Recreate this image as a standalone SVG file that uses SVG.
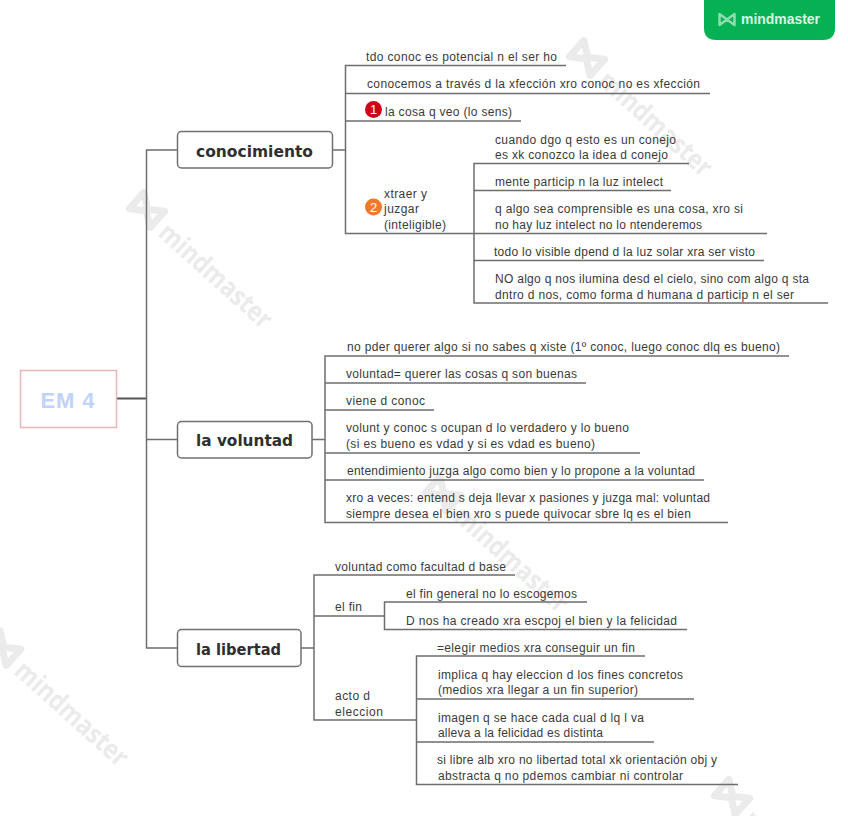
<svg xmlns="http://www.w3.org/2000/svg" width="848" height="816" viewBox="0 0 848 816">
<style>
text{font-family:"Liberation Sans",Arial,sans-serif}
.t{font-size:12px;fill:#3a3a3a}
.b{font-family:"DejaVu Sans",sans-serif;font-size:16px;font-weight:700;fill:#2f2f2f}
.n{fill:#fff;stroke:#707070;stroke-width:1.5}
.l{fill:none;stroke:#6e6e6e;stroke-width:1.5}
.wm{font-family:"Open Sans",sans-serif;font-size:27px;font-weight:700;fill:#ebebeb}
.wl{fill:none;stroke:#ebebeb;stroke-width:7;stroke-linejoin:round}
</style>
<defs>
<g id="wmk">
<path class="wl" d="M-14-11 V11 L0 1 L14 11 V-11 L0-1Z"/>
<text class="wm" x="24" y="12" textLength="142" lengthAdjust="spacingAndGlyphs">mindmaster</text>
</g>
</defs>
<rect width="848" height="816" fill="#fff"/>
<g id="watermarks">
<use href="#wmk" transform="translate(147,210) rotate(42)"/>
<use href="#wmk" transform="translate(587,58) rotate(42)"/>
<use href="#wmk" transform="translate(3,648) rotate(42)"/>
<use href="#wmk" transform="translate(443,494) rotate(42)"/>
<use href="#wmk" transform="translate(732,797) rotate(42)"/>
</g>
<g id="connectors">
<path d="M116 398.500H146.500" fill="none" stroke="#555" stroke-width="2"/>
<path class="l" d="M177 150H146.500V648H177M146.500 439.500H177"/>
<path class="l" d="M332 150H345.500M566 65.500H345.500V233.500H474M710 93.500H345.500M521 121H345.500"/>
<path class="l" d="M689 163.500H474V303H828M671 190.500H474M767 233.500H474M764 260.500H474"/>
<path class="l" d="M312 439.500H325M789 356H325V522.500H728M586 383H325M434 410H325M640 453H325M704 480H325"/>
<path class="l" d="M301 648H314M515 575H314V720H416.500M384.500 616H314"/>
<path class="l" d="M587 602H384.500V629.500H687"/>
<path class="l" d="M645 656H416.500V784.500H738M694 699H416.500M654 742H416.500"/>
</g>
<g id="root"><rect x="20.500" y="370.500" width="96" height="57" fill="#fff" stroke="#e9b6bb" stroke-width="1.500"/><text x="40.500" y="408" textLength="54" font-size="22" font-weight="700" fill="#c0d2fd">EM 4</text></g>
<g id="n-conocimiento"><rect class="n" x="177.500" y="131.500" width="155" height="36.500" rx="4"/><text class="b" x="196" y="157" textLength="117" lengthAdjust="spacingAndGlyphs">conocimiento</text></g>
<g id="n-voluntad"><rect class="n" x="177.500" y="421.500" width="134.500" height="36.500" rx="4"/><text class="b" x="196" y="446" textLength="97" lengthAdjust="spacingAndGlyphs">la voluntad</text></g>
<g id="n-libertad"><rect class="n" x="177.500" y="629.500" width="123.500" height="37" rx="4"/><text class="b" x="196" y="655" textLength="85" lengthAdjust="spacingAndGlyphs">la libertad</text></g>
<g id="c1">
<text class="t" x="366" y="61" textLength="191" lengthAdjust="spacing">tdo conoc es potencial n el ser ho</text>
<text class="t" x="367" y="88" textLength="333" lengthAdjust="spacing">conocemos a través d la xfección xro conoc no es xfección</text>
<circle cx="373.500" cy="109.500" r="8.500" fill="#d0021b"/><text x="373.500" y="114" text-anchor="middle" font-size="13" fill="#fff">1</text>
<text class="t" x="385" y="116" textLength="127" lengthAdjust="spacing">la cosa q veo (lo sens)</text>
<circle cx="373.500" cy="207" r="8.500" fill="#f0792b"/><text x="373.500" y="211.500" text-anchor="middle" font-size="13" fill="#fff">2</text>
<text class="t" x="384" y="198" textLength="43" lengthAdjust="spacing">xtraer y</text>
<text class="t" x="384" y="213" textLength="35" lengthAdjust="spacing">juzgar</text>
<text class="t" x="384" y="229" textLength="62" lengthAdjust="spacing">(inteligible)</text>
</g>
<g id="c2">
<text class="t" x="495" y="144" textLength="181" lengthAdjust="spacing">cuando dgo q esto es un conejo</text>
<text class="t" x="495" y="159" textLength="173" lengthAdjust="spacing">es xk conozco la idea d conejo</text>
<text class="t" x="495" y="186" textLength="168" lengthAdjust="spacing">mente particip n la luz intelect</text>
<text class="t" x="495" y="213" textLength="248" lengthAdjust="spacing">q algo sea comprensible es una cosa, xro si</text>
<text class="t" x="495" y="229" textLength="207" lengthAdjust="spacing">no hay luz intelect no lo ntenderemos</text>
<text class="t" x="494" y="256" textLength="261" lengthAdjust="spacing">todo lo visible dpend d la luz solar xra ser visto</text>
<text class="t" x="495" y="283" textLength="314" lengthAdjust="spacing">NO algo q nos ilumina desd el cielo, sino com algo q sta</text>
<text class="t" x="495" y="299" textLength="299" lengthAdjust="spacing">dntro d nos, como forma d humana d particip n el ser</text>
</g>
<g id="v1">
<text class="t" x="347" y="351" textLength="433" lengthAdjust="spacing">no pder querer algo si no sabes q xiste (1º conoc, luego conoc dlq es bueno)</text>
<text class="t" x="346" y="378" textLength="231" lengthAdjust="spacing">voluntad= querer las cosas q son buenas</text>
<text class="t" x="346" y="405" textLength="79" lengthAdjust="spacing">viene d conoc</text>
<text class="t" x="346" y="432" textLength="283" lengthAdjust="spacing">volunt y conoc s ocupan d lo verdadero y lo bueno</text>
<text class="t" x="346" y="448" textLength="249" lengthAdjust="spacing">(si es bueno es vdad y si es vdad es bueno)</text>
<text class="t" x="347" y="475" textLength="348" lengthAdjust="spacing">entendimiento juzga algo como bien y lo propone a la voluntad</text>
<text class="t" x="346" y="502" textLength="364" lengthAdjust="spacing">xro a veces: entend s deja llevar x pasiones y juzga mal: voluntad</text>
<text class="t" x="346" y="518" textLength="345" lengthAdjust="spacing">siempre desea el bien xro s puede quivocar sbre lq es el bien</text>
</g>
<g id="l1">
<text class="t" x="335" y="571" textLength="171" lengthAdjust="spacing">voluntad como facultad d base</text>
<text class="t" x="335" y="611" textLength="27" lengthAdjust="spacing">el fin</text>
<text class="t" x="406" y="598" textLength="171" lengthAdjust="spacing">el fin general no lo escogemos</text>
<text class="t" x="406" y="625" textLength="271" lengthAdjust="spacing">D nos ha creado xra escpoj el bien y la felicidad</text>
<text class="t" x="335" y="700" textLength="35" lengthAdjust="spacing">acto d</text>
<text class="t" x="335" y="716" textLength="48" lengthAdjust="spacing">eleccion</text>
<text class="t" x="437" y="652" textLength="198" lengthAdjust="spacing">=elegir medios xra conseguir un fin</text>
<text class="t" x="438" y="679" textLength="245" lengthAdjust="spacing">implica q hay eleccion d los fines concretos</text>
<text class="t" x="438" y="694" textLength="200" lengthAdjust="spacing">(medios xra llegar a un fin superior)</text>
<text class="t" x="438" y="722" textLength="206" lengthAdjust="spacing">imagen q se hace cada cual d lq l va</text>
<text class="t" x="438" y="737" textLength="165" lengthAdjust="spacing">alleva a la felicidad es distinta</text>
<text class="t" x="437" y="764" textLength="280" lengthAdjust="spacing">si libre alb xro no libertad total xk orientación obj y</text>
<text class="t" x="438" y="780" textLength="245" lengthAdjust="spacing">abstracta q no pdemos cambiar ni controlar</text>
</g>
<g id="badge">
<path d="M704 0H835V28Q835 40 823 40H716Q704 40 704 28Z" fill="#05b152"/>
<path d="M719.500 14V25L727 19.500L734.500 25V14L727 19.500Z" fill="none" stroke="#8fdcb0" stroke-width="2.500" stroke-linejoin="round"/>
<text x="741" y="24" font-family="Open Sans,sans-serif" font-size="15" font-weight="600" fill="#d9f5e5" textLength="79" lengthAdjust="spacingAndGlyphs">mindmaster</text>
</g>
</svg>
